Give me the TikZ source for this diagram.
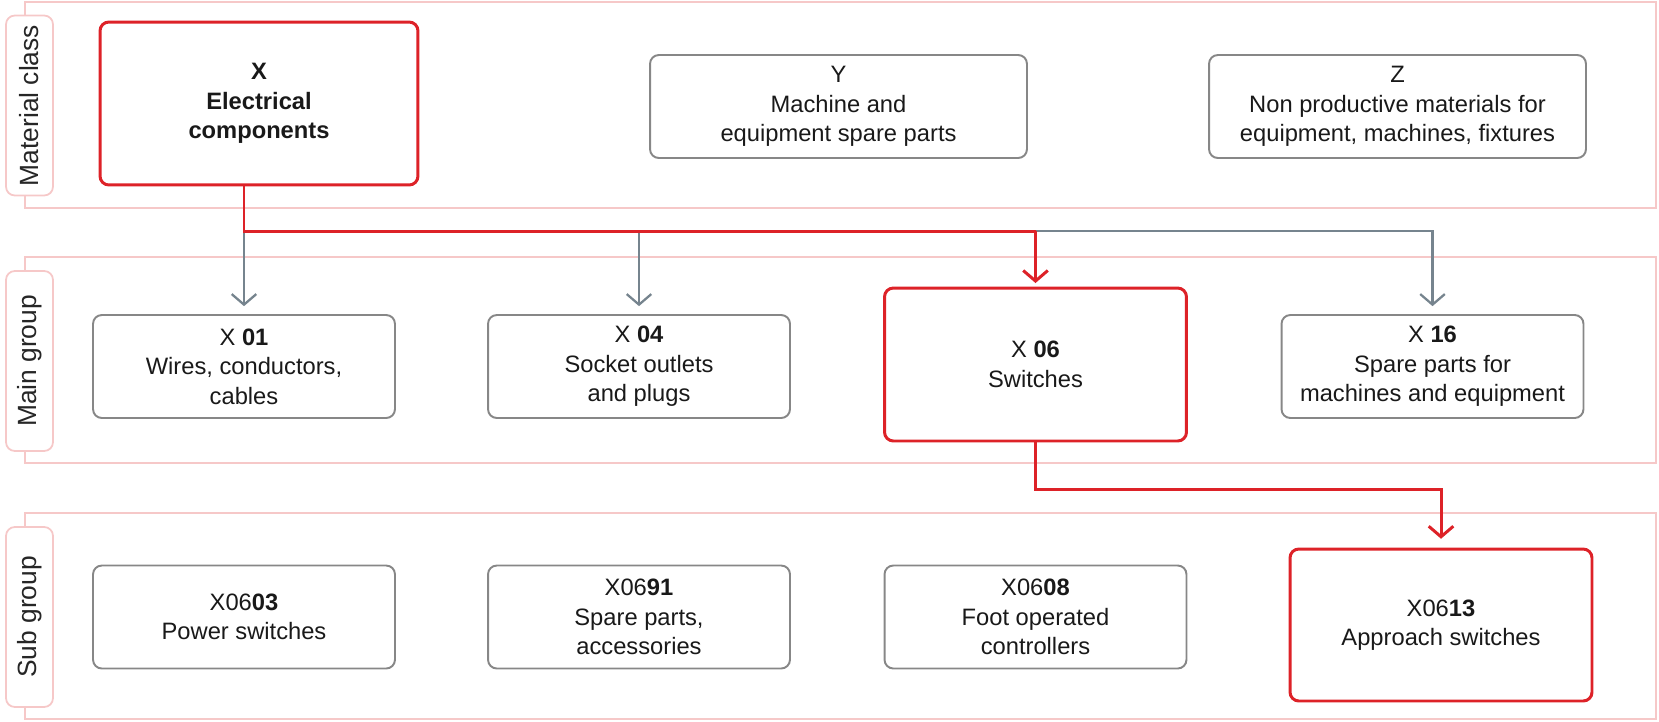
\documentclass[tikz,border=0pt]{standalone}
\usepackage{fontspec}
\setmainfont{Liberation Sans}
\usetikzlibrary{arrows.meta}
\definecolor{hired}{RGB}{221,34,40}
\definecolor{linegray}{RGB}{118,132,142}
\definecolor{boxgray}{RGB}{135,135,135}
\definecolor{lanepink}{RGB}{246,200,200}
\begin{document}
\begin{tikzpicture}[x=0.02cm,y=-0.02cm,
  lane/.style={draw=lanepink,line width=1pt},
  lanetag/.style={draw=lanepink,fill=white,line width=1pt,rounded corners=5pt,rotate=90,
    minimum width=3.6cm,minimum height=0.94cm,inner sep=0pt,
    font=\fontsize{15}{18}\selectfont,text=black!85},
  item/.style={draw=boxgray,line width=1.1pt,rounded corners=5pt,align=center,inner sep=0pt,
    minimum width=6.04cm,minimum height=2.06cm,font=\fontsize{13.5}{16.8}\selectfont,text=black!90},
  pick/.style={item,draw=hired,line width=1.7pt},
  feed/.style={draw=linegray,line width=1.3pt},
  hit/.style={draw=hired,line width=1.7pt},
  >={Straight Barb[length=6pt,width=14pt]}]
\useasboundingbox (0,0) rectangle (1659,721);
\draw[lane] (25,2) rectangle (1656,208);
\draw[lane] (25,257) rectangle (1656,463);
\draw[lane] (25,513) rectangle (1656,719);
\node[lanetag] (tagclass) at (29.5,105.5) {Material class};
\node[lanetag] (tagmain) at (29.5,361) {Main group};
\node[lanetag] (tagsub) at (29.5,617) {Sub group};

\node[pick,minimum width=6.36cm,minimum height=3.26cm] (X) at (259,103.5) {\textbf{X}\\\textbf{Electrical}\\\textbf{components}};
\node[item,minimum width=7.54cm] (Y) at (838.5,106.5) {Y\\Machine and\\equipment spare parts};
\node[item,minimum width=7.54cm] (Z) at (1397.5,106.5) {Z\\Non productive materials for\\equipment, machines, fixtures};

\node[item] (X01) at (244,366.5) {X \textbf{01}\\Wires, conductors,\\cables};
\node[item] (X04) at (639,366.5) {X \textbf{04}\\Socket outlets\\and plugs};
\node[pick,minimum height=3.06cm] (X06) at (1035.5,364.5) {X \textbf{06}\\Switches};
\node[item] (X16) at (1432.5,366.5) {X \textbf{16}\\Spare parts for\\machines and equipment};

\node[item] (X0603) at (244,617) {X06\textbf{03}\\Power switches};
\node[item] (X0691) at (639,617) {X06\textbf{91}\\Spare parts,\\accessories};
\node[item] (X0608) at (1035.5,617) {X06\textbf{08}\\Foot operated\\controllers};
\node[pick,minimum height=3.04cm] (X0613) at (1441,625) {X06\textbf{13}\\Approach switches};

\coordinate (bus) at (0,231);
\coordinate (subbus) at (0,489);
\draw[feed,->,shorten >=4.5pt] (X01.north |- bus) -- (X01.north);
\draw[feed,->,shorten >=4.5pt] (X04.north |- bus) -- (X04.north);
\draw[feed,->,shorten >=4.5pt] (X06.north |- bus) -| (X16.north);
\draw[hit] (X01.north |- X.south) -- (X01.north |- bus) -- (X06.north |- bus);
\draw[hit,->,shorten >=2pt] (X06.north |- bus) -- (X06.north);
\draw[hit,->,shorten >=5pt] (X06.south) -- (X06.south |- subbus) -| (X0613.north);
\end{tikzpicture}
\end{document}
